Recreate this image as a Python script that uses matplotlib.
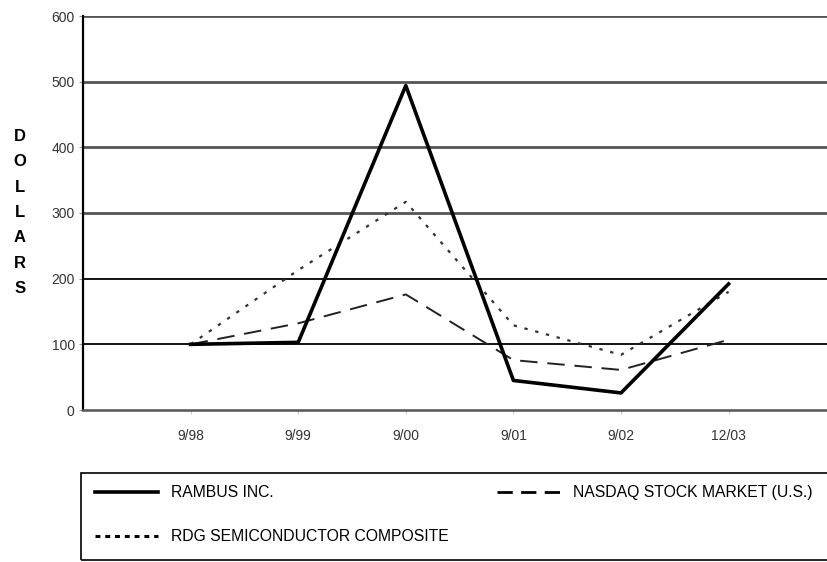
import matplotlib.pyplot as plt
from matplotlib.patches import Rectangle
from matplotlib.lines import Line2D

plt.rcParams['font.family'] = ['Liberation Sans', 'DejaVu Sans']

# Data
periods = ['9/98', '9/99', '9/00', '9/01', '9/02', '12/03']
rambus = [100, 103, 494, 45, 26, 192]
nasdaq = [100, 132, 176, 76, 61, 107]
rdg_semi = [100, 213, 317, 129, 84, 180]
y_ticks = [0, 100, 200, 300, 400, 500, 600]

W, H = 828, 562
fig = plt.figure(figsize=(W / 100, H / 100), dpi=100)
ax = fig.add_axes([83 / W, 1 - 410 / H, (W - 83) / W, 394 / H])

x = list(range(len(periods)))

# horizontal grid lines
for v in y_ticks[1:]:
    if v >= 300:
        ax.axhline(v, color='#555555', lw=2.0, zorder=1)
    else:
        ax.axhline(v, color='black', lw=1.3, zorder=1)

ax.plot(x, rambus, color='black', lw=2.6, zorder=3)
ax.plot(x, nasdaq, color='#222222', lw=1.4, dashes=(9, 5), zorder=2)
ax.plot(x, rdg_semi, color='#333333', lw=1.6, dashes=(1.5, 3.5), zorder=2)

ax.set_xlim(-1, (W - 83) / 107.6 - 1)
ax.set_ylim(0, 600)
ax.set_xticks(x)
ax.set_xticklabels(periods, fontsize=10, color='#333333')
ax.set_yticks(y_ticks)
ax.set_yticklabels([str(v) for v in y_ticks], fontsize=10, color='#333333')
ax.tick_params(axis='x', length=3, color='#cccccc', pad=11)
ax.tick_params(axis='y', length=3, color='#999999', pad=3)

for s in ['top', 'right']:
    ax.spines[s].set_visible(False)
ax.spines['left'].set_linewidth(1.6)
ax.spines['left'].set_color('black')
ax.spines['bottom'].set_linewidth(1.8)
ax.spines['bottom'].set_color('#555555')

# vertical stacked y label
fig.text(20 / W, 1 - 212.5 / H, '\n'.join('DOLLARS'), ha='center', va='center',
         fontsize=12, fontweight='bold', linespacing=1.86)

# legend box
fig.patches.append(Rectangle((81 / W, 1 - 560 / H), (845 - 81) / W, 87 / H,
                             transform=fig.transFigure, fill=False,
                             edgecolor='black', lw=1.2))
h_rambus = Line2D([], [], color='black', lw=2.6, label='RAMBUS INC.')
h_nasdaq = Line2D([], [], color='black', lw=2.0, dashes=(5.5, 3),
                  label='NASDAQ STOCK MARKET (U.S.)')
h_rdg = Line2D([], [], color='black', lw=2.2, dashes=(1.6, 1.6),
               label='RDG SEMICONDUCTOR COMPOSITE')
leg_kw = dict(fontsize=11.3, frameon=False, handlelength=4.0, borderpad=0,
              borderaxespad=0, labelspacing=1.85, handletextpad=0.85)
leg1 = fig.legend(handles=[h_rambus, h_rdg], loc='upper left',
                  bbox_to_anchor=(95 / W, 1 - 485 / H), **leg_kw)
leg2 = fig.legend(handles=[h_nasdaq], loc='upper left',
                  bbox_to_anchor=(497 / W, 1 - 485 / H), **leg_kw)

fig.savefig('out.png', dpi=100)
